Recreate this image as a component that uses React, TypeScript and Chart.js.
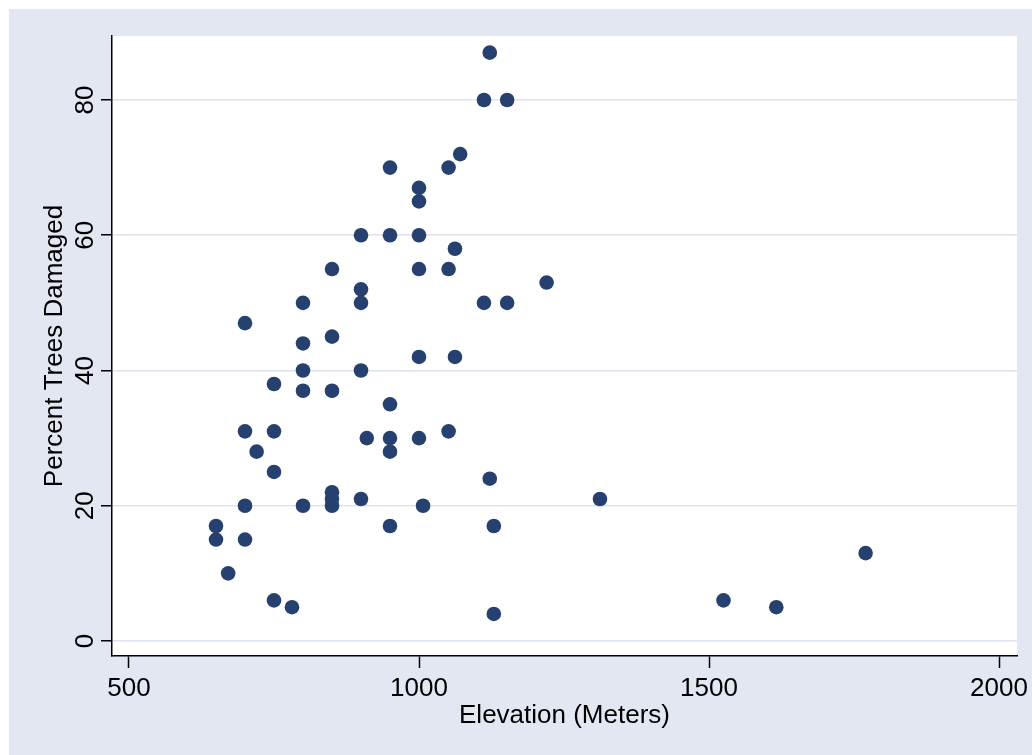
import React, { useEffect, useRef } from "react";
import { Chart, registerables } from "chart.js";

Chart.register(...registerables);

const elevation = [1122, 1112, 1152, 1071, 950, 1051, 1000, 1000, 900, 950, 1000, 1062, 850, 1000, 1051, 1220, 900, 800, 900, 1112, 1152, 700, 850, 800, 1000, 1062, 800, 900, 750, 800, 850, 950, 700, 750, 1051, 910, 950, 1000, 720, 950, 750, 1122, 850, 850, 900, 1312, 700, 800, 850, 1007, 650, 950, 1129, 650, 700, 1770, 671, 750, 1525, 781, 1616, 1129];
const damage = [87, 80, 80, 72, 70, 70, 67, 65, 60, 60, 60, 58, 55, 55, 55, 53, 52, 50, 50, 50, 50, 47, 45, 44, 42, 42, 40, 40, 38, 37, 37, 35, 31, 31, 31, 30, 30, 30, 28, 28, 25, 24, 22, 21, 21, 21, 20, 20, 20, 20, 17, 17, 17, 15, 15, 13, 10, 6, 6, 5, 5, 4];

const xTicks = [500, 1000, 1500, 2000];
const yTicks = [0, 20, 40, 60, 80];
const xTitle = "Elevation (Meters)";
const yTitle = "Percent Trees Damaged";

const FONT = '26px "Liberation Sans", Arial, sans-serif';
const BG = "#E2E7F1";
const MARKER = "#26416F";

export default function App() {
  const ref = useRef<HTMLCanvasElement | null>(null);

  useEffect(() => {
    if (!ref.current) return;
    const points = elevation.map((x, i) => ({ x, y: damage[i] }));

    const bgPlugin = {
      id: "bgPlugin",
      beforeDraw(chart: any) {
        const { ctx, chartArea } = chart;
        ctx.save();
        ctx.fillStyle = BG;
        ctx.fillRect(0, 0, chart.width, chart.height);
        ctx.fillStyle = "#FFFFFF";
        ctx.fillRect(chartArea.left, chartArea.top, chartArea.right - chartArea.left, chartArea.bottom - chartArea.top);
        ctx.restore();
      },
      afterDraw(chart: any) {
        const { ctx, chartArea } = chart;
        const xs = chart.scales.x;
        const ys = chart.scales.y;
        ctx.save();
        ctx.fillStyle = "#000";
        ctx.font = FONT;
        ctx.textBaseline = "alphabetic";
        ctx.textAlign = "center";
        xTicks.forEach((v) => {
          ctx.fillText(String(v), xs.getPixelForValue(v), chartArea.bottom + 40);
        });
        ctx.fillText(xTitle, (chartArea.left + chartArea.right) / 2, chartArea.bottom + 67);
        yTicks.forEach((v) => {
          ctx.save();
          ctx.translate(chartArea.left - 19, ys.getPixelForValue(v));
          ctx.rotate(-Math.PI / 2);
          ctx.fillText(String(v), 0, 0);
          ctx.restore();
        });
        ctx.save();
        ctx.translate(chartArea.left - 50, (chartArea.top + chartArea.bottom) / 2);
        ctx.rotate(-Math.PI / 2);
        ctx.fillText(yTitle, 0, 0);
        ctx.restore();
        ctx.restore();
      },
    };

    const chart = new Chart(ref.current, {
      type: "scatter",
      data: {
        datasets: [
          {
            data: points,
            backgroundColor: MARKER,
            borderWidth: 0,
            pointRadius: 7.3,
            pointHoverRadius: 7.3,
          },
        ],
      },
      options: {
        animation: false,
        responsive: false,
        devicePixelRatio: 1,
        layout: { padding: { left: 0, top: 27, right: 15, bottom: 0 } },
        plugins: { legend: { display: false }, tooltip: { enabled: false } },
        scales: {
          x: {
            type: "linear",
            min: 470.69,
            max: 2031.03,
            afterBuildTicks: (scale: any) => {
              scale.ticks = xTicks.map((v) => ({ value: v }));
            },
            afterFit: (scale: any) => {
              scale.height = 99;
            },
            ticks: { display: false },
            grid: {
              drawOnChartArea: false,
              drawTicks: true,
              tickLength: 12,
              tickWidth: 1.5,
              tickColor: "#000",
            },
            border: { display: true, color: "#000", width: 1.5 },
          },
          y: {
            type: "linear",
            min: -2.218,
            max: 89.46,
            afterBuildTicks: (scale: any) => {
              scale.ticks = yTicks.map((v) => ({ value: v }));
            },
            afterFit: (scale: any) => {
              scale.width = 103;
            },
            ticks: { display: false },
            grid: {
              color: "#DDE3EE",
              lineWidth: 1.5,
              drawTicks: true,
              tickLength: 11,
              tickWidth: 1.5,
              tickColor: "#000",
            },
            border: { display: true, color: "#000", width: 1.5 },
          },
        },
      },
      plugins: [bgPlugin],
    });

    return () => chart.destroy();
  }, []);

  return (
    <div style={{ position: "fixed", left: 9, top: 9, width: 1023, height: 746 }}>
      <canvas ref={ref} width={1023} height={746} style={{ display: "block" }} />
    </div>
  );
}
